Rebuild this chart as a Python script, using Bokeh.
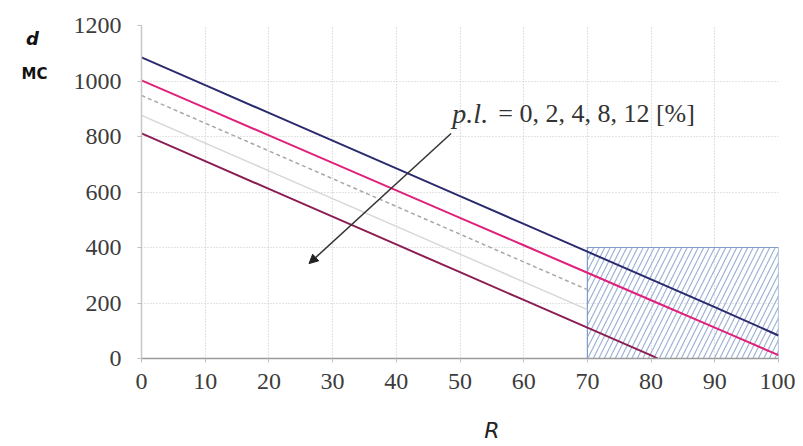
from bokeh.plotting import figure
from bokeh.layouts import row
from bokeh.models import Range1d, Label, Arrow, NormalHead, FixedTicker, LinearAxis
from bokeh.core.properties import value
from bokeh.embed import file_html
from bokeh.resources import INLINE

# ---- data ----
r_all = [0, 10, 20, 30, 40, 50, 60, 70, 80, 90, 100]
d_pl0 = [1085, 985, 885, 785, 685, 585, 485, 385, 285, 185, 83]
d_pl2 = [1002, 903, 804, 705, 606, 507, 408, 309, 210, 111, 12]
r_mid = [0, 10, 20, 30, 40, 50, 60, 70]
d_pl4 = [948, 848, 748, 648, 548, 448, 348, 248]
d_pl8 = [876, 776, 676, 576, 476, 376, 276, 176]
r_pl12 = [0, 10, 20, 30, 40, 50, 60, 70, 80, 81]
d_pl12 = [811, 711, 611, 511, 411, 311, 211, 111, 11, 0]

zone_r = [70, 100]
zone_d = [0, 400]

x_ticks = [0, 10, 20, 30, 40, 50, 60, 70, 80, 90, 100]
y_ticks = [0, 200, 400, 600, 800, 1000, 1200]

arrow_start = (48.6, 811)
arrow_end = (26.3, 342)
note_pl_pos = (48.8, 882)
note_rest_pos = (56.0, 882)

x_title, x_title_at = "R", 55
y_title = "d"
y_unit = "МС"

SERIF = "Liberation Serif"
H = 446
SIDE_W = 70            # narrow side panel holding the y-axis name and unit
W_MAIN = 795 - SIDE_W
FT, FB = 25, 358       # frame top / bottom on the canvas (frames of the row are aligned)

# ---- side panel with the quantity name and unit (its frame spans canvas rows FT..FB) ----
side = figure(width=SIDE_W, height=H, output_backend="svg", toolbar_location=None,
              x_range=Range1d(0, SIDE_W), y_range=Range1d(FB, FT),
              x_axis_type=None, y_axis_type=None,
              min_border_left=0, min_border_right=0, min_border_top=FT, min_border_bottom=H - FB)
side.outline_line_color = None
side.grid.visible = False
side.text(x=[32], y=[38], text=[y_title], text_font=value("DejaVu Sans"),
          text_font_style="bold italic", text_font_size="18px", text_color="#111111",
          text_align="center", text_baseline="alphabetic")
side.text(x=[34], y=[73], text=[y_unit], text_font=value("DejaVu Sans"),
          text_font_style="bold", text_font_size="15px", text_color="#111111",
          text_align="center", text_baseline="alphabetic")

# ---- main chart ----
p = figure(width=W_MAIN, height=H, output_backend="svg", toolbar_location=None,
           x_range=Range1d(0, 100), y_range=Range1d(0, 1200),
           min_border_left=140 - SIDE_W, min_border_right=17, min_border_top=FT,
           min_border_bottom=H - FB)
p.outline_line_color = None
p.background_fill_color = "white"

# grid
p.xgrid.ticker = FixedTicker(ticks=x_ticks)
p.ygrid.ticker = FixedTicker(ticks=y_ticks)
for g in (p.xgrid, p.ygrid):
    g.grid_line_color = "#c8c8c8"
    g.grid_line_dash = "1 2"
    g.grid_line_width = 1.2

# axes
p.xaxis.ticker = FixedTicker(ticks=x_ticks)
p.yaxis.ticker = FixedTicker(ticks=y_ticks)
for ax in (p.xaxis, p.yaxis):
    ax.major_label_text_font = SERIF
    ax.major_label_text_font_size = "24px"
    ax.major_label_text_color = "#3c3c3c"
    ax.minor_tick_line_color = None
    ax.major_tick_line_color = "#c0c0c0"
    ax.major_tick_out = 4
    ax.major_tick_in = 0
p.xaxis.axis_line_color = "#9a9a9a"
p.xaxis.axis_line_width = 1.5
p.yaxis.axis_line_color = "#c8c8c8"
p.yaxis.axis_line_width = 1.5
p.xaxis.major_label_standoff = 11
p.yaxis.major_label_standoff = 16

# quantity name below the x axis
rax = LinearAxis(ticker=FixedTicker(ticks=[x_title_at]), major_label_overrides={x_title_at: x_title})
rax.axis_line_color = None
rax.major_tick_line_color = None
rax.minor_tick_line_color = None
rax.major_label_text_font = "DejaVu Sans"
rax.major_label_text_font_style = "italic"
rax.major_label_text_font_size = "22px"
rax.major_label_text_color = "#222222"
rax.major_label_standoff = 20
p.add_layout(rax, "below")

# hatched zone
p.quad(left=[zone_r[0]], right=[zone_r[1]], bottom=[zone_d[0]], top=[zone_d[1]],
       fill_color=None, line_color="#7f9ccc", line_width=1.2,
       hatch_pattern="/", hatch_color="#9fb2d6", hatch_scale=11, hatch_weight=1.2)

# lines
p.line(r_mid, d_pl8, line_color="#d6d6d6", line_width=1.5)
p.line(r_mid, d_pl4, line_color="#a8a8a8", line_width=1.5, line_dash="4 3")
p.line(r_pl12, d_pl12, line_color="#8c1d52", line_width=2)
p.line(r_all, d_pl2, line_color="#e0207a", line_width=2)
p.line(r_all, d_pl0, line_color="#2a2a6e", line_width=2)

# arrow + annotation
p.add_layout(Arrow(end=NormalHead(size=9, fill_color="#222222", line_color="#222222"),
                   x_start=arrow_start[0], y_start=arrow_start[1],
                   x_end=arrow_end[0], y_end=arrow_end[1],
                   line_color="#333333", line_width=1.5))
p.add_layout(Label(x=note_pl_pos[0], y=note_pl_pos[1], text="p.l.", text_font=SERIF,
                   text_font_style="italic", text_font_size="28px", text_color="#333333",
                   text_baseline="middle", text_align="left"))
p.add_layout(Label(x=note_rest_pos[0], y=note_rest_pos[1], text=" = 0, 2, 4, 8, 12 [%]", text_font=SERIF,
                   text_font_size="26px", text_color="#333333",
                   text_baseline="middle", text_align="left"))

layout = row(side, p)
open("out.html", "w").write(file_html(layout, INLINE))
